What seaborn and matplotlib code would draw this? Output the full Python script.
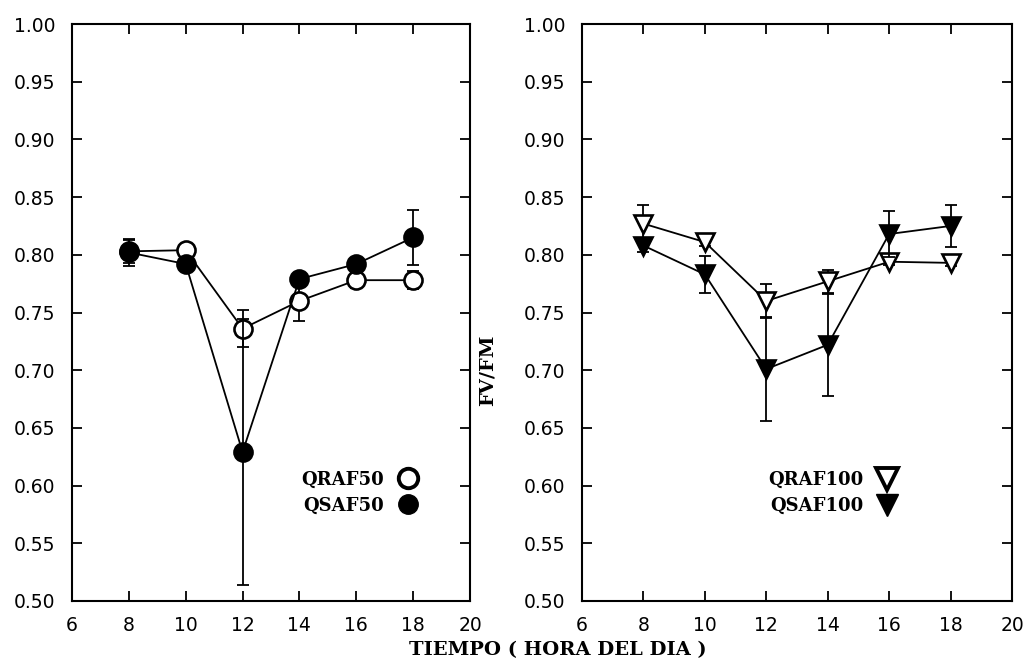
import matplotlib
matplotlib.use("Agg")
import matplotlib.pyplot as plt
from matplotlib.lines import Line2D
import numpy as np
import pandas as pd
import seaborn as sns

# Hours of the day at which Fv/Fm was measured
hours = [8, 10, 12, 14, 16, 18]

# 50 % treatment
qraf50 = [0.803, 0.804, 0.736, 0.760, 0.778, 0.778]
qraf50_err = [0.010, 0.004, 0.016, 0.017, 0.007, 0.008]
qsaf50 = [0.802, 0.792, 0.629, 0.779, 0.792, 0.815]
qsaf50_err = [0.012, 0.005, 0.115, 0.004, 0.004, 0.024]

# 100 % treatment
qraf100 = [0.827, 0.811, 0.760, 0.777, 0.794, 0.793]
qraf100_err = [0.016, 0.003, 0.015, 0.010, 0.003, 0.003]
qsaf100 = [0.808, 0.783, 0.701, 0.722, 0.818, 0.825]
qsaf100_err = [0.006, 0.016, 0.045, 0.044, 0.020, 0.018]

x_ticks = [6, 8, 10, 12, 14, 16, 18, 20]
y_ticks = [0.50, 0.55, 0.60, 0.65, 0.70, 0.75, 0.80, 0.85, 0.90, 0.95, 1.00]

sns.set_theme(style="ticks")
plt.rcParams["font.family"] = ["DejaVu Sans"]
plt.rcParams["text.color"] = "black"

serif_bold = dict(family="DejaVu Serif", weight="bold", color="black")

fig = plt.figure(figsize=(10.25, 6.62), dpi=100)
fig.patch.set_facecolor("white")
ax1 = fig.add_axes([72 / 1025, 61 / 662, 398 / 1025, 577 / 662])
ax2 = fig.add_axes([582 / 1025, 61 / 662, 430 / 1025, 577 / 662])


def draw_series(ax, values, errs, marker, face, msize, z):
    df = pd.DataFrame({"hora": hours, "fvfm": values})
    ax.errorbar(hours, values, yerr=errs, fmt="none", ecolor="black",
                elinewidth=1.3, capsize=4, capthick=1.3, zorder=z)
    sns.lineplot(data=df, x="hora", y="fvfm", ax=ax, color="black",
                 linewidth=1.3, marker=marker, markersize=msize,
                 markerfacecolor=face, markeredgecolor="black",
                 markeredgewidth=1.9, zorder=z + 0.5, errorbar=None)


draw_series(ax1, qraf50, qraf50_err, "o", "white", 13, 3)
draw_series(ax1, qsaf50, qsaf50_err, "o", "black", 13, 4)
draw_series(ax2, qraf100, qraf100_err, "v", "white", 13, 3)
draw_series(ax2, qsaf100, qsaf100_err, "v", "black", 13, 4)

for ax in (ax1, ax2):
    ax.set_xlim(6, 20)
    ax.set_ylim(0.50, 1.00)
    ax.set_xticks(x_ticks)
    ax.set_xticklabels([str(t) for t in x_ticks])
    ax.set_yticks(y_ticks)
    ax.set_yticklabels([f"{t:.2f}" for t in y_ticks])
    ax.set_xlabel("")
    ax.set_ylabel("")
    ax.tick_params(direction="in", length=7, width=1.3, top=True, right=True,
                   labelsize=13.5, colors="black")
    ax.tick_params(axis="y", pad=12)
    ax.tick_params(axis="x", pad=11)
    for sp in ax.spines.values():
        sp.set_visible(True)
        sp.set_linewidth(1.5)
        sp.set_color("black")
    ax.set_facecolor("white")

# Legends: label text followed by its marker
h50 = [Line2D([], [], linestyle="none", marker="o", markersize=14,
              markerfacecolor="white", markeredgecolor="black", markeredgewidth=2.8),
       Line2D([], [], linestyle="none", marker="o", markersize=14,
              markerfacecolor="black", markeredgecolor="black")]
h100 = [Line2D([], [], linestyle="none", marker="v", markersize=16,
               markerfacecolor="white", markeredgecolor="black", markeredgewidth=2.8),
        Line2D([], [], linestyle="none", marker="v", markersize=16,
               markerfacecolor="black", markeredgecolor="black")]

leg_font = dict(family="DejaVu Serif", weight="bold", size=13)
leg1 = ax1.legend(h50, ["QRAF50", "QSAF50"], loc="center", bbox_to_anchor=(0.721, 0.188),
                  frameon=False, markerfirst=False, handlelength=1.0, handletextpad=0.8,
                  labelspacing=0.45, prop=leg_font, borderpad=0)
leg2 = ax2.legend(h100, ["QRAF100", "QSAF100"], loc="center", bbox_to_anchor=(0.581, 0.187),
                  frameon=False, markerfirst=False, handlelength=1.0, handletextpad=0.8,
                  labelspacing=0.45, prop=leg_font, borderpad=0)
for leg in (leg1, leg2):
    for t in leg.get_texts():
        t.set_color("black")

ax2.set_ylabel("FV/FM", fontsize=14, **serif_bold)
ax2.yaxis.set_label_coords(-0.198, 0.4)

fig.text(558 / 1025, 1 - 650 / 662, "TIEMPO ( HORA DEL DIA )", ha="center",
         va="center", fontsize=14, **serif_bold)

fig.savefig("out.png", dpi=100, facecolor="white")
